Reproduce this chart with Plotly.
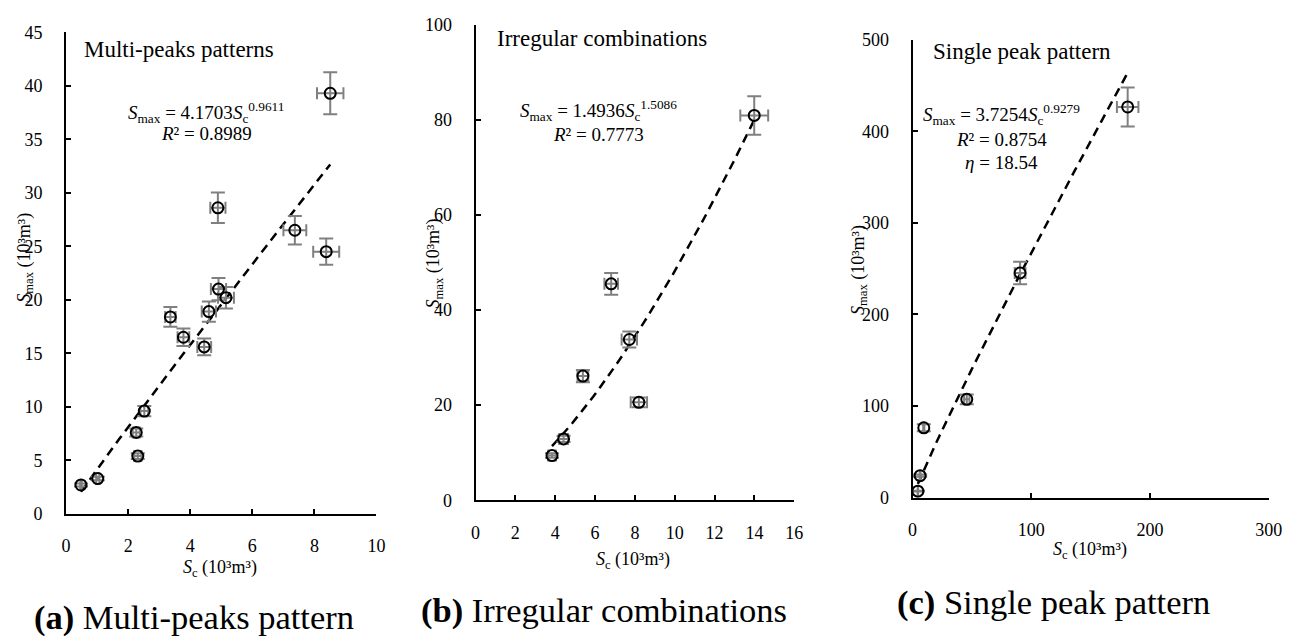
import numpy as np
import plotly.graph_objects as go

# ---- data -------------------------------------------------------------
# (a) multi-peaks pattern
a_sc = [0.48, 1.02, 2.26, 2.31, 2.52, 3.36, 3.78, 4.45, 4.60, 4.91, 5.15, 4.89, 7.37, 8.38, 8.51]
a_smax = [2.7, 3.3, 7.6, 5.4, 9.6, 18.4, 16.5, 15.6, 18.9, 21.0, 20.2, 28.6, 26.5, 24.5, 39.3]
a_fit = (4.1703, 0.9611)
a_r2 = "0.8989"

# (b) irregular combinations
b_sc = [3.84, 4.42, 5.39, 6.81, 7.72, 8.20, 13.99]
b_smax = [9.4, 12.9, 26.1, 45.5, 33.8, 20.6, 80.9]
b_fit = (1.4936, 1.5086)
b_r2 = "0.7773"

# (c) single peak pattern
c_sc = [4.5, 6.4, 9.5, 45.7, 90.6, 181.2]
c_smax = [7.1, 24.0, 76.3, 107.4, 245.4, 426.6]
c_fit = (3.7254, 0.9279)
c_r2 = "0.8754"
c_eta = "18.54"

err_pct = 5  # relative uncertainty on both quantities (%)

x_ranges = [[0, 10], [0, 16], [0, 300]]
x_dticks = [2, 2, 100]
y_ranges = [[0, 45], [0, 100], [0, 500]]
y_dticks = [5, 20, 100]

panel_titles = ["Multi-peaks patterns", "Irregular combinations", "Single peak pattern"]
captions = ["<b>(a)</b> Multi-peaks pattern", "<b>(b)</b> Irregular combinations",
            "<b>(c)</b> Single peak pattern"]

# ---- layout geometry (pixels) ------------------------------------------
W, H = 1298, 644
FONT = "Liberation Serif, Times New Roman, serif"
# plot boxes: left, right, top, bottom
boxes = [(62, 377, 23, 520), (477.5, 801, 15, 506), (921, 1282.5, 30.7, 503.3)]


def px(x):
    return x / W


def py(y):
    return 1 - y / H


fig = go.Figure()

panels = [(a_sc, a_smax, a_fit), (b_sc, b_smax, b_fit), (c_sc, c_smax, c_fit)]
for i, (sc, smax, (k, p)) in enumerate(panels):
    xa = "x" if i == 0 else f"x{i + 1}"
    ya = "y" if i == 0 else f"y{i + 1}"
    # fitted power law over the observed range
    xs = np.linspace(min(sc), max(sc), 60)
    fig.add_trace(go.Scatter(
        x=xs, y=k * xs ** p, mode="lines", xaxis=xa, yaxis=ya,
        line=dict(color="black", width=2.5, dash="9px,6px"), hoverinfo="skip",
        showlegend=False))
    fig.add_trace(go.Scatter(
        x=sc, y=smax, mode="markers", xaxis=xa, yaxis=ya, showlegend=False,
        marker=dict(symbol="circle-open", size=11, color="black",
                    line=dict(color="black", width=2)),
        error_x=dict(type="percent", value=err_pct, color="#808080", thickness=2, width=6),
        error_y=dict(type="percent", value=err_pct, color="#808080", thickness=2, width=7)))

axis_common = dict(
    showline=True, linecolor="black", linewidth=2, ticks="inside", ticklen=5,
    tickwidth=2, tickcolor="black", showgrid=False, zeroline=False,
    tickfont=dict(family=FONT, size=18, color="black"))

layout = dict(width=W, height=H, margin=dict(l=0, r=0, t=0, b=0),
              paper_bgcolor="white", plot_bgcolor="white", showlegend=False,
              font=dict(family=FONT, color="black"))
for i, (l, r, t, b) in enumerate(boxes):
    xn = "xaxis" if i == 0 else f"xaxis{i + 1}"
    yn = "yaxis" if i == 0 else f"yaxis{i + 1}"
    xa = "x" if i == 0 else f"x{i + 1}"
    ya = "y" if i == 0 else f"y{i + 1}"
    layout[xn] = dict(axis_common, domain=[px(l), px(r)], range=x_ranges[i],
                      dtick=x_dticks[i], anchor=ya, ticklabelstandoff=15)
    layout[yn] = dict(axis_common, domain=[py(b), py(t)], range=y_ranges[i],
                      dtick=y_dticks[i], anchor=xa, ticklabelstandoff=18)
fig.update_layout(**layout)

ann = []


def text(x, y, s, size, xanchor="center", angle=0):
    ann.append(dict(x=px(x), y=py(y), xref="paper", yref="paper", text=s,
                    showarrow=False, xanchor=xanchor, yanchor="middle",
                    textangle=angle, font=dict(family=FONT, size=size, color="black")))


# panel titles
text(78, 41, panel_titles[0], 23, "left")
text(497, 29, panel_titles[1], 23, "left")
text(940, 43, panel_titles[2], 23, "left")


# fit equations
def eq(k, p):
    return f"<i>S</i><sub>max</sub> = {k}<i>S</i><sub>c</sub><sup>{p}</sup>"


text(204, 106, eq(*a_fit), 19)
text(204, 127, f"<i>R</i>² = {a_r2}", 19)
text(602, 104, eq(*b_fit), 19)
text(602, 129, f"<i>R</i>² = {b_r2}", 19)
text(1011, 108, eq(*c_fit), 19)
text(1011, 134, f"<i>R</i>² = {c_r2}", 19)
text(1011, 157, f"<i>η</i> = {c_eta}", 19)

# axis titles
xt = "<i>S</i><sub>c</sub> (10³m³)"
yt = "<i>S</i><sub>max</sub> (10³m³)"
text(218, 576, xt, 18)
text(637, 568, xt, 18)
text(1101, 558, xt, 18)
text(20, 256, yt, 18, angle=-90)
text(436, 262, yt, 18, angle=-90)
text(867, 268, yt, 18, angle=-90)

# sub-figure captions
text(192, 627, captions[0], 34.5)
text(608, 620, captions[1], 34.5)
text(1064, 612, captions[2], 34.5)

fig.update_layout(annotations=ann)
fig.write_html("out.html")
